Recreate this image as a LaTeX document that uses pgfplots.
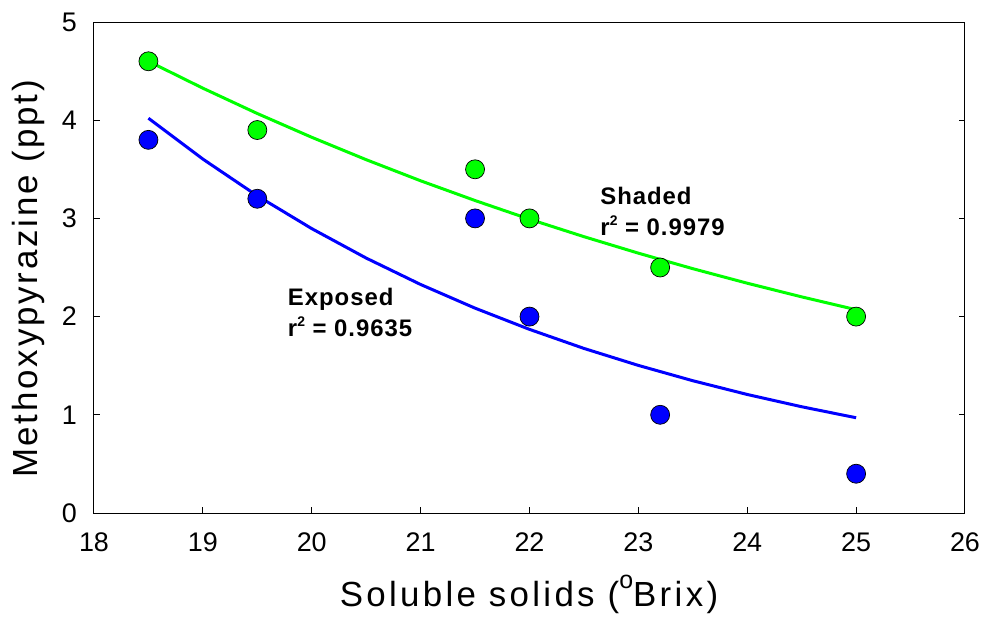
\documentclass[border=0pt]{standalone}
\usepackage{fontspec}
\setmainfont{Liberation Sans}
\usepackage{pgfplots}
\pgfplotsset{compat=1.18}
\definecolor{pgreen}{RGB}{0,255,0}
\definecolor{pblue}{RGB}{0,0,255}
\newcommand{\rsq}{r\raisebox{10bp}{\fontsize{14}{14}\selectfont 2}}
\begin{document}
\begin{tikzpicture}
\useasboundingbox (-94bp,-104bp) rectangle (892bp,513bp);
\begin{axis}[
  scale only axis,
  width=871bp, height=491bp,
  xmin=18, xmax=26, ymin=0, ymax=5,
  xtick={18,19,...,26}, ytick={0,1,...,5},
  xtick pos=lower, ytick pos=both,
  tick align=inside,
  major tick length=6bp,
  axis line style={line width=1bp},
  every tick/.style={black, line width=1bp},
  /pgf/number format/assume math mode=true,
  ticklabel style={font=\fontsize{27}{30}\selectfont, inner sep=0pt},
  xticklabel style={anchor=north, yshift=-20bp},
  yticklabel style={anchor=east, xshift=-17bp},
  xlabel={Soluble solids (\raisebox{18bp}{\fontsize{25}{25}\selectfont o}Brix)},
  ylabel={Methoxypyrazine (ppt)},
  xlabel style={font=\fontsize{35}{40}\selectfont\addfontfeatures{LetterSpace=9.5},
    at={(axis description cs:0.4994,-0.1914)}, anchor=base, inner sep=0pt},
  ylabel style={font=\fontsize{35}{40}\selectfont\addfontfeatures{LetterSpace=8},
    at={(axis description cs:-0.0643,0.4766)}, anchor=base, inner sep=0pt},
  clip=false,
]
% fitted curves
\addplot[pgreen, line width=3bp, no marks] coordinates {
 (18.5,4.600) (19.0,4.326) (19.5,4.068) (20.0,3.826) (20.5,3.598) (21.0,3.383)
 (21.5,3.182) (22.0,2.992) (22.5,2.814) (23.0,2.646) (23.5,2.488) (24.0,2.340)
 (24.5,2.201) (25.0,2.070)};
\addplot[pblue, line width=3bp, no marks] coordinates {
 (18.5,4.020) (19.0,3.604) (19.5,3.230) (20.0,2.896) (20.5,2.596) (21.0,2.327)
 (21.5,2.086) (22.0,1.870) (22.5,1.676) (23.0,1.503) (23.5,1.347) (24.0,1.207)
 (24.5,1.082) (25.0,0.970)};
% data
\addplot[only marks, mark=*, mark size=9.5bp, mark options={fill=pgreen, draw=black, line width=0.7bp}] coordinates {
 (18.5,4.6) (19.5,3.9) (21.5,3.5) (22,3.0) (23.2,2.5) (25,2.0)};
\addplot[only marks, mark=*, mark size=9.5bp, mark options={fill=pblue, draw=black, line width=0.7bp}] coordinates {
 (18.5,3.8) (19.5,3.2) (21.5,3.0) (22,2.0) (23.2,1.0) (25,0.4)};
\node[anchor=north west, inner sep=0pt, align=left, font=\fontsize{24}{31}\selectfont\bfseries\addfontfeatures{LetterSpace=4}]
  at (axis cs:22.65,3.32) {Shaded\\\rsq{} = 0.9979};
\node[anchor=north west, inner sep=0pt, align=left, font=\fontsize{24}{31}\selectfont\bfseries\addfontfeatures{LetterSpace=4}]
  at (axis cs:19.78,2.29) {Exposed\\\rsq{} = 0.9635};
\end{axis}
\end{tikzpicture}
\end{document}
